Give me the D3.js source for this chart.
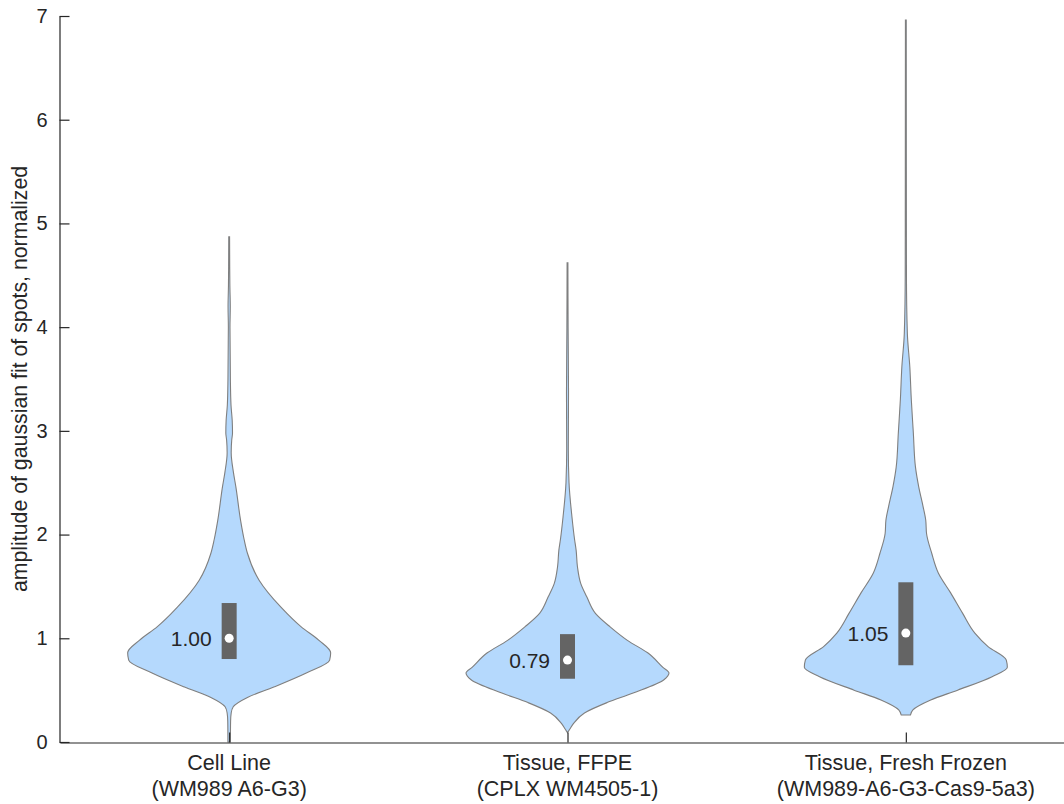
<!DOCTYPE html>
<html>
<head>
<meta charset="utf-8">
<script src="https://cdn.jsdelivr.net/npm/d3@7"></script>
<style>
  body { margin: 0; background: #fff; }
  text { font-family: "Liberation Sans", Arial, Helvetica, sans-serif; fill: #262626; }
</style>
</head>
<body>
<div id="main"></div>
<script>
// categories (two lines each)
const catTop = ["Cell Line", "Tissue, FFPE", "Tissue, Fresh Frozen"];
const catBottom = ["(WM989 A6-G3)", "(CPLX WM4505-1)", "(WM989-A6-G3-Cas9-5a3)"];

// box stats
const medians = [1.00, 0.79, 1.05];
const q1 = [0.80, 0.61, 0.74];
const q3 = [1.34, 1.04, 1.54];
const medianLabels = ["1.00", "0.79", "1.05"];

// violin outlines: value and relative density (1 = widest)
const cellLineVal = [0.00, 0.20, 0.28, 0.34, 0.43, 0.53, 0.665, 0.79, 0.86, 0.98, 1.11, 1.30, 1.56, 1.82, 1.95, 2.14, 2.46, 2.60, 2.79, 2.91, 2.98, 3.10, 3.25, 3.49, 4.00, 4.20, 4.40, 4.87];
const cellLineDen = [0.012, 0.014, 0.02, 0.04, 0.18, 0.44, 0.76, 0.99, 1.00, 0.885, 0.71, 0.51, 0.295, 0.18, 0.148, 0.112, 0.066, 0.042, 0.02, 0.025, 0.033, 0.03, 0.018, 0.012, 0.008, 0.011, 0.007, 0.004];

const ffpeVal = [0.09, 0.12, 0.18, 0.28, 0.38, 0.47, 0.60, 0.665, 0.72, 0.86, 0.98, 1.11, 1.24, 1.40, 1.53, 1.69, 1.85, 1.95, 2.17, 2.50, 2.82, 3.37, 4.00, 4.62];
const ffpeDen = [0.0, 0.02, 0.06, 0.167, 0.39, 0.64, 0.95, 1.00, 0.94, 0.79, 0.59, 0.42, 0.275, 0.19, 0.13, 0.098, 0.085, 0.07, 0.044, 0.015, 0.008, 0.01, 0.006, 0.004];

const frozenVal = [0.26, 0.31, 0.405, 0.50, 0.63, 0.72, 0.79, 0.92, 1.05, 1.24, 1.44, 1.63, 1.82, 2.01, 2.14, 2.27, 2.46, 2.65, 2.98, 3.30, 3.62, 3.94, 4.50, 5.50, 6.96];
const frozenDen = [0.045, 0.07, 0.245, 0.51, 0.85, 1.00, 0.99, 0.81, 0.68, 0.56, 0.44, 0.32, 0.255, 0.204, 0.196, 0.17, 0.127, 0.095, 0.074, 0.054, 0.039, 0.015, 0.006, 0.005, 0.004];

const violins = [
  { val: cellLineVal, den: cellLineDen },
  { val: ffpeVal, den: ffpeDen },
  { val: frozenVal, den: frozenDen }
];

const yTicks = [0, 1, 2, 3, 4, 5, 6, 7];

const W = 1064, H = 804;
const violinWidth = 0.3;

const svg = d3.select("#main")
  .append("svg")
  .attr("width", W)
  .attr("height", H);

const x = d3.scaleLinear()
  .domain([0.5, 3.5])
  .range([60, 1075]);

const y = d3.scaleLinear()
  .domain([0, 7])
  .range([742, 16]);

// violins
violins.forEach(function (v, i) {
  const c = i + 1;
  const pts = v.val.map(function (d, k) { return { v: d, w: v.den[k] }; });
  const area = d3.area()
    .curve(d3.curveMonotoneY)
    .y(function (d) { return y(d.v); })
    .x0(function (d) { return x(c - d.w * violinWidth); })
    .x1(function (d) { return x(c + d.w * violinWidth); });

  svg.append("path")
    .datum(pts)
    .attr("d", area)
    .attr("fill", "#b5d9fd")
    .attr("stroke", "#7f7f7f")
    .attr("stroke-width", 1.1);

  // box
  svg.append("rect")
    .attr("x", x(c) - 7.5)
    .attr("width", 15)
    .attr("y", y(q3[i]))
    .attr("height", y(q1[i]) - y(q3[i]))
    .attr("fill", "#646464");

  svg.append("circle")
    .attr("cx", x(c))
    .attr("cy", y(medians[i]))
    .attr("r", 4.5)
    .attr("fill", "#fff");

  svg.append("text")
    .attr("x", x(c) - 17.5)
    .attr("y", y(medians[i]))
    .attr("dy", "0.36em")
    .attr("text-anchor", "end")
    .style("font-size", "21px")
    .text(medianLabels[i]);
});

// y axis, ticks pointing inward
const yAxis = svg.append("g")
  .attr("transform", "translate(59.5,0)")
  .call(d3.axisLeft(y).tickValues(yTicks).tickFormat(d3.format("d"))
    .tickSizeInner(-10).tickSizeOuter(0).tickPadding(12));
yAxis.selectAll("text").style("font-size", "20px").attr("fill", "#262626");

// x axis
const xAxis = svg.append("g")
  .attr("transform", "translate(0,742.5)")
  .call(d3.axisBottom(x).tickValues([1, 2, 3]).tickFormat("")
    .tickSizeInner(-10).tickSizeOuter(0));

svg.selectAll(".domain, .tick line")
  .attr("stroke", "#262626")
  .attr("stroke-width", 1.2);

// category labels
[1, 2, 3].forEach(function (c, i) {
  const t = svg.append("text")
    .attr("text-anchor", "middle")
    .style("font-size", "21.5px");
  t.append("tspan").attr("x", x(c)).attr("y", 770).text(catTop[i]);
  t.append("tspan").attr("x", x(c)).attr("y", 796).text(catBottom[i]);
});

// y label
svg.append("text")
  .attr("transform", "translate(27," + y(3.5) + ") rotate(-90)")
  .attr("text-anchor", "middle")
  .style("font-size", "21.3px")
  .text("amplitude of gaussian fit of spots, normalized");
</script>
</body>
</html>
